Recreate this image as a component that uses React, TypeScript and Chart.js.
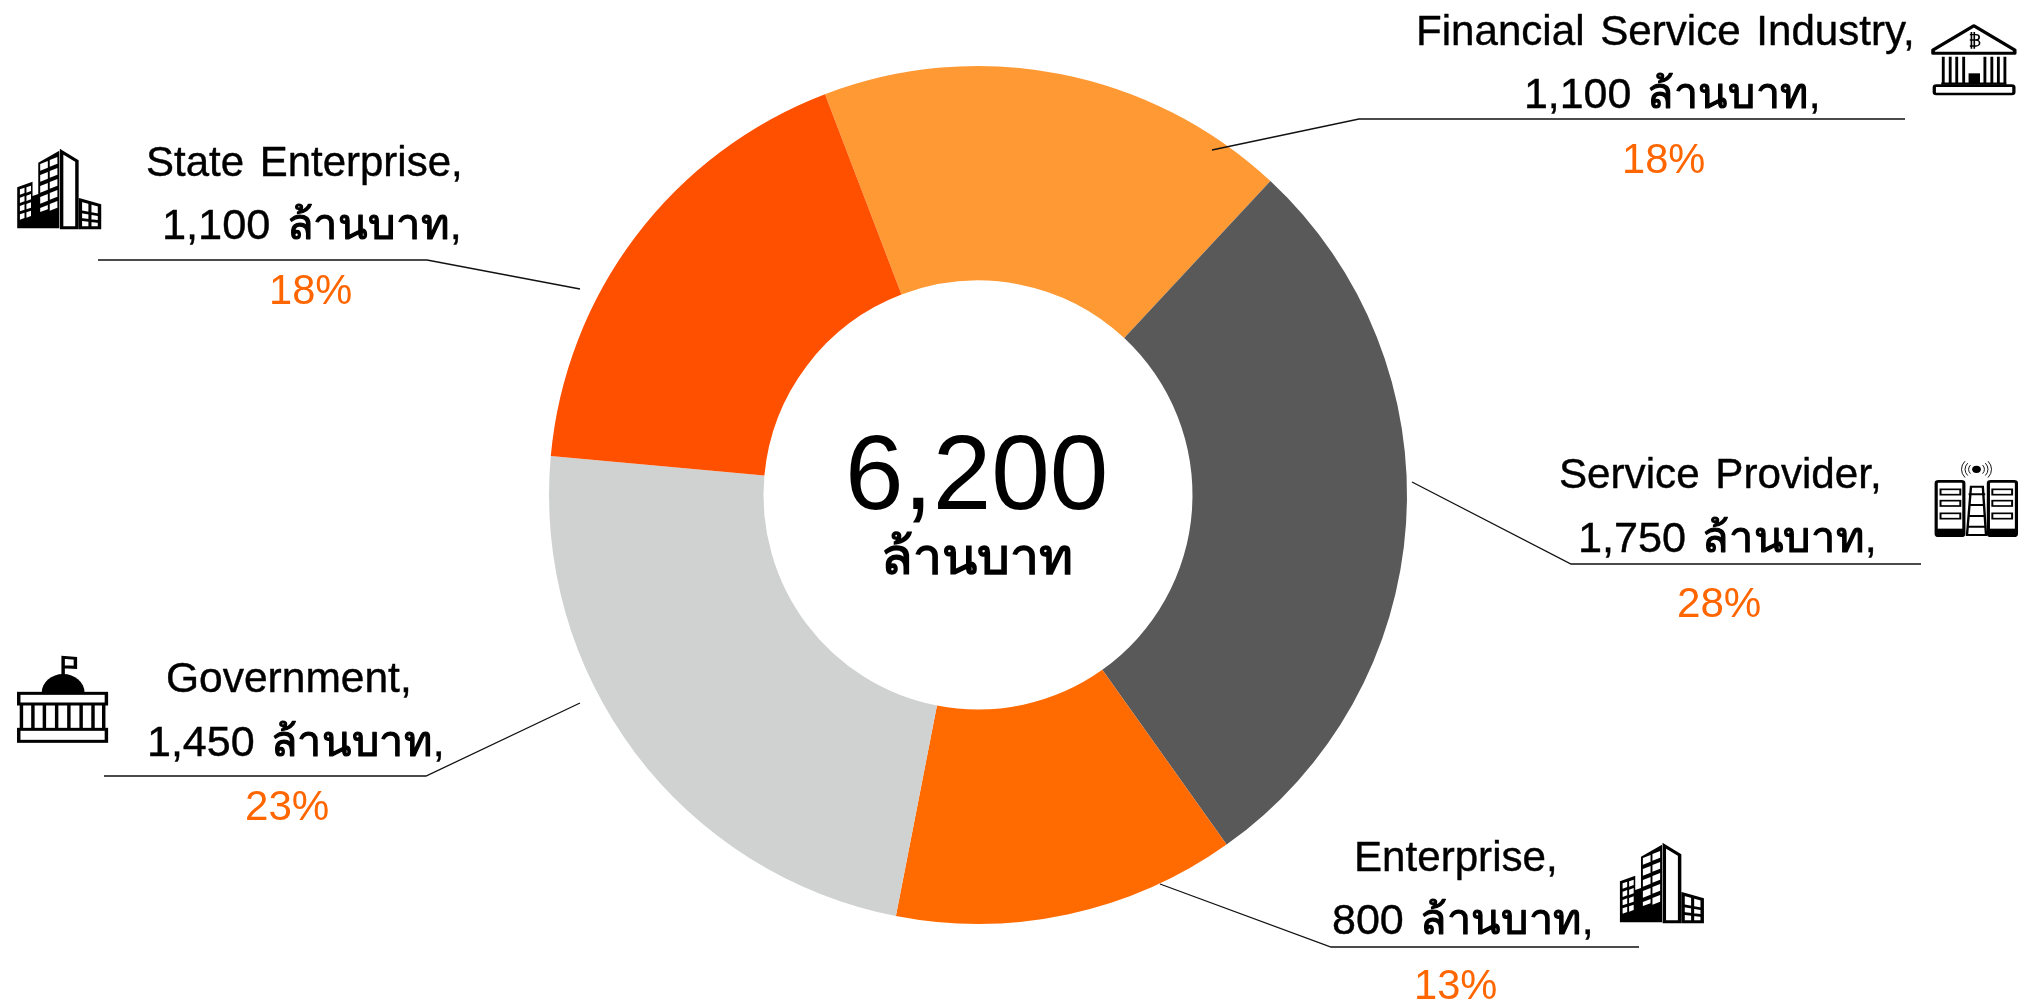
import React, { useEffect, useRef } from "react";
import { Chart, registerables } from "chart.js";

Chart.register(...registerables);

const categories = ["Financial Service Industry", "Service Provider", "Enterprise", "Government", "State Enterprise"];
const values = [1100, 1750, 800, 1450, 1100];
const percents = [18, 28, 13, 23, 18];
const totalLabel = "6,200";
const unit = "ล้านบาท";
const sliceColors = ["#FF9933", "#595959", "#FF6B00", "#D0D2D1", "#FF5000"];
const percentColor = "#FF6600";

const FONT = '"Liberation Sans", Arial, sans-serif';

type Lay = {
  name: [number, number, number];
  amount: [number, number, number];
  pct: [number, number, number];
  line: [number, number][];
};
// [ink left, ink right, baseline]
const layouts: Lay[] = [
  { name: [1419, 1911, 45], amount: [1527, 1817, 108], pct: [1625, 1704, 173], line: [[1905, 119], [1359, 119], [1212, 150]] },
  { name: [1560, 1878, 488], amount: [1581, 1873, 552], pct: [1679, 1760, 617], line: [[1921, 564], [1571, 564], [1412, 482]] },
  { name: [1357, 1554, 871], amount: [1333, 1590, 934], pct: [1417, 1496, 999], line: [[1639, 947], [1331, 947], [1160, 884]] },
  { name: [168, 408, 692], amount: [150, 441, 756], pct: [247, 328, 820], line: [[104, 776], [426, 776], [580, 703]] },
  { name: [147, 459, 176], amount: [165, 458, 239], pct: [272, 351, 304], line: [[98, 260], [427, 260], [580, 289]] },
];

type Seg = { text: string; font: string; widthFont?: string; stroke?: number };

function fitSegs(ctx: CanvasRenderingContext2D, segs: Seg[], left: number, right: number, baseline: number, color: string, wordSpacing = "0px") {
  ctx.save();
  ctx.fillStyle = color;
  ctx.strokeStyle = color;
  ctx.lineJoin = "round";
  ctx.textAlign = "left";
  ctx.textBaseline = "alphabetic";
  (ctx as any).wordSpacing = wordSpacing;
  const starts: number[] = [];
  const scales: number[] = [];
  let cum = 0;
  let inkL = 0;
  let inkR = 0;
  segs.forEach((s, i) => {
    let k = 1;
    ctx.font = s.font;
    const m = ctx.measureText(s.text);
    if (s.widthFont) {
      ctx.font = s.widthFont;
      k = ctx.measureText(s.text).width / m.width;
    }
    starts.push(cum);
    scales.push(k);
    if (i === 0) inkL = m.actualBoundingBoxLeft * k;
    if (i === segs.length - 1) inkR = cum + m.actualBoundingBoxRight * k;
    cum += m.width * k;
  });
  const sx = (right - left) / (inkL + inkR);
  ctx.translate(left + inkL * sx, baseline);
  ctx.scale(sx, 1);
  segs.forEach((s, i) => {
    ctx.save();
    ctx.font = s.font;
    ctx.translate(starts[i], 0);
    ctx.scale(scales[i], 1);
    ctx.fillText(s.text, 0, 0);
    if (s.stroke) {
      ctx.lineWidth = s.stroke;
      ctx.strokeText(s.text, 0, 0);
    }
    ctx.restore();
  });
  ctx.restore();
}

function poly(ctx: CanvasRenderingContext2D, pts: number[]) {
  ctx.beginPath();
  ctx.moveTo(pts[0], pts[1]);
  for (let i = 2; i < pts.length; i += 2) ctx.lineTo(pts[i], pts[i + 1]);
  ctx.closePath();
}

function buildingIcon(ctx: CanvasRenderingContext2D, ox: number, oy: number) {
  ctx.save();
  ctx.translate(ox, oy);
  ctx.scale(1 / 2.613, 1 / 3);
  ctx.fillStyle = "#000";
  ctx.strokeStyle = "#000";
  ctx.lineWidth = 7;
  poly(ctx, [45, 295, 45, 172, 85, 155, 85, 198, 100, 192, 100, 98, 155, 62, 155, 295]);
  ctx.fill();
  ctx.fillStyle = "#fff";
  for (let r = 0; r < 4; r++) {
    for (let c = 0; c < 2; c++) {
      const x = 52 + c * 17;
      const y = 178 + r * 25 - c * 6;
      poly(ctx, [x, y, x + 12, y - 5, x + 12, y + 11, x, y + 16]);
      ctx.fill();
    }
  }
  for (let r = 0; r < 5; r++) {
    for (let c = 0; c < 2; c++) {
      const x = 105 + c * 25;
      const y = 102 + r * 33 - c * 12;
      if (r === 4 && c === 0) {
        poly(ctx, [x, y, x + 20, y - 9, x + 20, y + 4, x, y + 12]);
      } else {
        poly(ctx, [x, y, x + 20, y - 9, x + 20, y + 11, x, y + 20]);
      }
      ctx.fill();
    }
  }
  ctx.lineWidth = 9;
  poly(ctx, [161, 65, 201, 93, 201, 293, 161, 293]);
  ctx.stroke();
  poly(ctx, [210, 210, 260, 226, 260, 293, 210, 293]);
  ctx.stroke();
  ctx.lineWidth = 8;
  ctx.beginPath();
  ctx.moveTo(235, 218);
  ctx.lineTo(235, 293);
  ctx.moveTo(210, 245);
  ctx.lineTo(260, 255);
  ctx.moveTo(210, 268);
  ctx.lineTo(260, 275);
  ctx.stroke();
  ctx.restore();
}

function bankIcon(ctx: CanvasRenderingContext2D, ox: number, oy: number) {
  ctx.save();
  ctx.translate(ox, oy);
  ctx.scale(1 / 2.45, 1 / 3);
  ctx.strokeStyle = "#000";
  ctx.fillStyle = "#000";
  ctx.lineJoin = "round";
  ctx.lineWidth = 9;
  poly(ctx, [1355, 150, 1455, 77, 1555, 150, 1555, 160, 1355, 160]);
  ctx.stroke();
  ctx.lineWidth = 4;
  ctx.beginPath();
  ctx.moveTo(1449, 96);
  ctx.lineTo(1449, 146);
  ctx.moveTo(1456, 96);
  ctx.lineTo(1456, 146);
  ctx.moveTo(1445, 104);
  ctx.lineTo(1460, 104);
  ctx.arc(1460, 112, 8, -Math.PI / 2, Math.PI / 2);
  ctx.lineTo(1445, 120);
  ctx.moveTo(1460, 120);
  ctx.arc(1460, 129, 9, -Math.PI / 2, Math.PI / 2);
  ctx.lineTo(1445, 138);
  ctx.stroke();
  ctx.lineWidth = 7;
  ctx.beginPath();
  for (const x of [1380, 1397, 1413, 1430, 1482, 1499, 1515, 1531]) {
    ctx.moveTo(x, 170);
    ctx.lineTo(x, 252);
  }
  ctx.moveTo(1375, 251);
  ctx.lineTo(1535, 251);
  ctx.stroke();
  ctx.fillRect(1442, 220, 28, 32);
  ctx.lineWidth = 8;
  ctx.beginPath();
  ctx.roundRect(1358, 257, 195, 25, 5);
  ctx.stroke();
  ctx.restore();
}

function governmentIcon(ctx: CanvasRenderingContext2D, ox: number, oy: number) {
  ctx.save();
  ctx.translate(ox, oy);
  ctx.scale(1 / 2.613, 1 / 3);
  ctx.strokeStyle = "#000";
  ctx.fillStyle = "#000";
  ctx.lineWidth = 9;
  ctx.beginPath();
  ctx.arc(165, 188, 56, Math.PI, 0);
  ctx.fill();
  ctx.beginPath();
  ctx.moveTo(165, 135);
  ctx.lineTo(165, 82);
  ctx.lineTo(197, 85);
  ctx.lineTo(197, 112);
  ctx.lineTo(165, 110);
  ctx.stroke();
  ctx.strokeRect(49, 190, 229, 32);
  ctx.strokeRect(49, 298, 229, 36);
  ctx.beginPath();
  for (const x of [56, 86, 116, 148, 180, 212, 243, 271]) {
    ctx.moveTo(x, 222);
    ctx.lineTo(x, 298);
  }
  ctx.stroke();
  ctx.restore();
}

function serviceIcon(ctx: CanvasRenderingContext2D, ox: number, oy: number) {
  ctx.save();
  ctx.translate(ox, oy);
  ctx.scale(1 / 2.529, 1 / 3);
  ctx.strokeStyle = "#000";
  ctx.fillStyle = "#000";
  ctx.lineWidth = 8;
  ctx.beginPath();
  ctx.roundRect(1356, 124, 70, 163, 6);
  ctx.roundRect(1488, 124, 71, 163, 6);
  ctx.stroke();
  ctx.fillRect(1356, 266, 70, 22);
  ctx.fillRect(1488, 266, 71, 22);
  ctx.lineWidth = 5;
  for (const y of [148, 182, 220]) {
    ctx.strokeRect(1367, y, 50, 16);
    ctx.strokeRect(1498, y, 50, 16);
  }
  ctx.lineWidth = 6;
  ctx.beginPath();
  ctx.moveTo(1444, 140);
  ctx.lineTo(1474, 140);
  ctx.lineTo(1482, 285);
  ctx.lineTo(1434, 285);
  ctx.closePath();
  for (const y of [163, 195, 228, 260]) {
    ctx.moveTo(1438, y);
    ctx.lineTo(1480, y);
  }
  ctx.stroke();
  ctx.beginPath();
  ctx.arc(1458, 88, 11, 0, Math.PI * 2);
  ctx.fill();
  ctx.lineWidth = 2.5;
  ctx.beginPath();
  for (const r of [20, 29, 38]) {
    ctx.moveTo(1458 + r * Math.cos(-0.7), 88 + r * Math.sin(-0.7));
    ctx.arc(1458, 88, r, -0.7, 0.7);
    ctx.moveTo(1458 + r * Math.cos(Math.PI - 0.7), 88 + r * Math.sin(Math.PI - 0.7));
    ctx.arc(1458, 88, r, Math.PI - 0.7, Math.PI + 0.7);
  }
  ctx.stroke();
  ctx.restore();
}

const annotations = {
  id: "annotations",
  afterDraw(chart: any) {
    const ctx: CanvasRenderingContext2D = chart.ctx;
    const arc = chart.getDatasetMeta(0).data[0];
    const labelFont = `42px ${FONT}`;
    const thaiBold = `bold 42px ${FONT}`;

    categories.forEach((name, i) => {
      const l = layouts[i];
      fitSegs(ctx, [{ text: `${name},`, font: labelFont, stroke: 0.4 }], l.name[0], l.name[1], l.name[2], "#000", "4px");
      fitSegs(
        ctx,
        [
          { text: `${values[i].toLocaleString("en-US")} `, font: labelFont, stroke: 0.4 },
          { text: unit, font: labelFont, widthFont: thaiBold, stroke: 1.2 },
          { text: ",", font: labelFont, stroke: 0.4 },
        ],
        l.amount[0],
        l.amount[1],
        l.amount[2],
        "#000",
        "4px"
      );
      fitSegs(ctx, [{ text: `${percents[i]}%`, font: labelFont }], l.pct[0], l.pct[1], l.pct[2], percentColor);

      ctx.save();
      ctx.strokeStyle = "#111";
      ctx.lineWidth = 1.3;
      ctx.beginPath();
      l.line.forEach(([x, y], k) => (k ? ctx.lineTo(x, y) : ctx.moveTo(x, y)));
      ctx.stroke();
      ctx.restore();
    });

    fitSegs(ctx, [{ text: totalLabel, font: `105px ${FONT}` }], arc.x - 128, arc.x + 127, arc.y + 14, "#000");
    fitSegs(ctx, [{ text: unit, font: `bold 50px ${FONT}` }], arc.x - 95, arc.x + 93, arc.y + 79, "#000");

    bankIcon(ctx, 1380, 0);
    buildingIcon(ctx, 0, 130);
    governmentIcon(ctx, 0, 630);
    serviceIcon(ctx, 1400, 440);
    buildingIcon(ctx, 1602.7, 824);
  },
};

export default function App() {
  const ref = useRef<HTMLCanvasElement>(null);
  useEffect(() => {
    if (!ref.current) return;
    const chart = new Chart(ref.current, {
      type: "doughnut",
      data: {
        labels: categories,
        datasets: [{ data: values, backgroundColor: sliceColors, borderWidth: 0 }],
      },
      options: {
        responsive: false,
        animation: false,
        rotation: -20.9,
        cutout: "50%",
        layout: { padding: { left: 0, right: 64, top: 66, bottom: 80 } },
        plugins: { legend: { display: false }, tooltip: { enabled: false } },
      },
      plugins: [annotations],
    } as any);
    return () => chart.destroy();
  }, []);
  return (
    <div style={{ position: "absolute", left: 0, top: 0, width: 2020, height: 1004, background: "#fff" }}>
      <canvas ref={ref} width={2020} height={1004} style={{ display: "block", width: 2020, height: 1004 }} />
    </div>
  );
}
